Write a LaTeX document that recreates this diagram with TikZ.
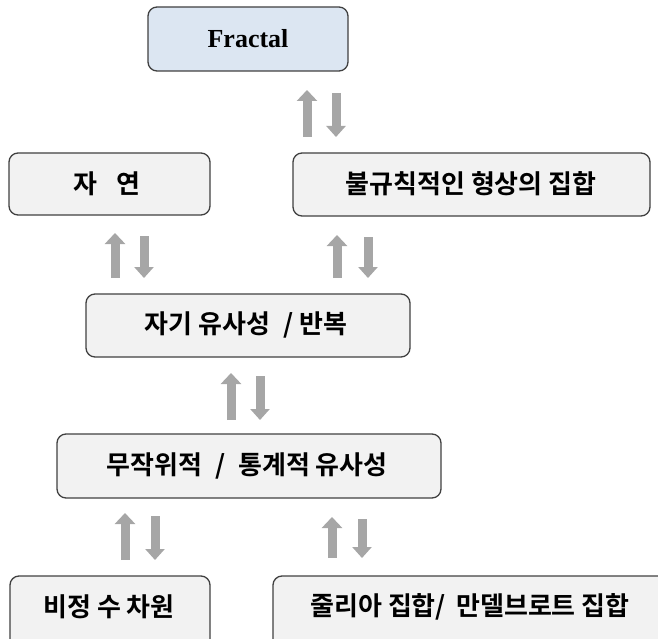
\documentclass[tikz,border=0pt]{standalone}
\usepackage{fontspec}
\setmainfont{Liberation Serif}
\newfontfamily\kor{Noto Sans CJK KR Bold}
\usetikzlibrary{arrows.meta}
\definecolor{boxfill}{HTML}{F2F2F2}
\definecolor{topfill}{HTML}{DCE6F2}
\definecolor{boxline}{HTML}{404040}
\definecolor{arrgray}{HTML}{A6A6A6}
\tikzset{
  box/.style={draw=boxline, line width=1.3pt, rounded corners=9pt, fill=boxfill},
  lbl/.style={font=\kor\fontsize{26}{29}\selectfont, text=black},
  uparr/.style={draw=arrgray, line width=9pt, -{Triangle[width=20pt,length=11pt]}},
  dnarr/.style={draw=arrgray, line width=9pt, -{Triangle[width=19pt,length=11pt]}}
}
\begin{document}
\begin{tikzpicture}[x=1pt,y=-1pt]
\useasboundingbox (0,0) rectangle (658,639);
\clip (0,0) rectangle (658,639);
% boxes
\draw[box, fill=topfill] (148,7) rectangle (348,71);
\node (frac) at (248,39) {\fontsize{26}{30}\selectfont\bfseries Fractal};
\draw[box] (9,153) rectangle (210,215);
\node[lbl] (nat) at (107,184) {자\hspace{0.7em}연};
\draw[box] (293,153) rectangle (650,216);
\node[lbl] (irr) at (471,184) {불규칙적인 형상의 집합};
\draw[box] (86,294) rectangle (410,357);
\node[lbl] (self) at (246,325) {자기 유사성\hspace{0.5em}/ 반복};
\draw[box] (57,434) rectangle (441,498);
\node[lbl] (rand) at (247,466) {무작위적\hspace{0.5em}/\hspace{0.5em}통계적 유사성};
\draw[box] (10,576) rectangle (210,650);
\node[lbl] (dim) at (109,607) {비정 수 차원};
\draw[box] (273,576) rectangle (672,650);
\node[lbl] (julia) at (470,607) {줄리아 집합/\hspace{0.4em}만델브로트 집합};
% arrow coordinates
\coordinate (a1u1) at (307,137); \coordinate (a1u2) at (307,90);
\coordinate (a1d1) at (336,93);  \coordinate (a1d2) at (336,137);
\coordinate (a2u1) at (115,278); \coordinate (a2u2) at (115,233);
\coordinate (a2d1) at (144,236); \coordinate (a2d2) at (144,278);
\coordinate (a3u1) at (337,278); \coordinate (a3u2) at (337,235);
\coordinate (a3d1) at (368,237); \coordinate (a3d2) at (368,278);
\coordinate (a4u1) at (231,420); \coordinate (a4u2) at (231,373);
\coordinate (a4d1) at (260,376); \coordinate (a4d2) at (260,420);
\coordinate (a5u1) at (125,560); \coordinate (a5u2) at (125,513);
\coordinate (a5d1) at (155,516); \coordinate (a5d2) at (155,560);
\coordinate (a6u1) at (332,558); \coordinate (a6u2) at (332,517);
\coordinate (a6d1) at (362,519); \coordinate (a6d2) at (362,558);
\foreach \i in {1,...,6}{
  \draw[uparr] (a\i u1) -- (a\i u2);
  \draw[dnarr] (a\i d1) -- (a\i d2);
}
\end{tikzpicture}
\end{document}
